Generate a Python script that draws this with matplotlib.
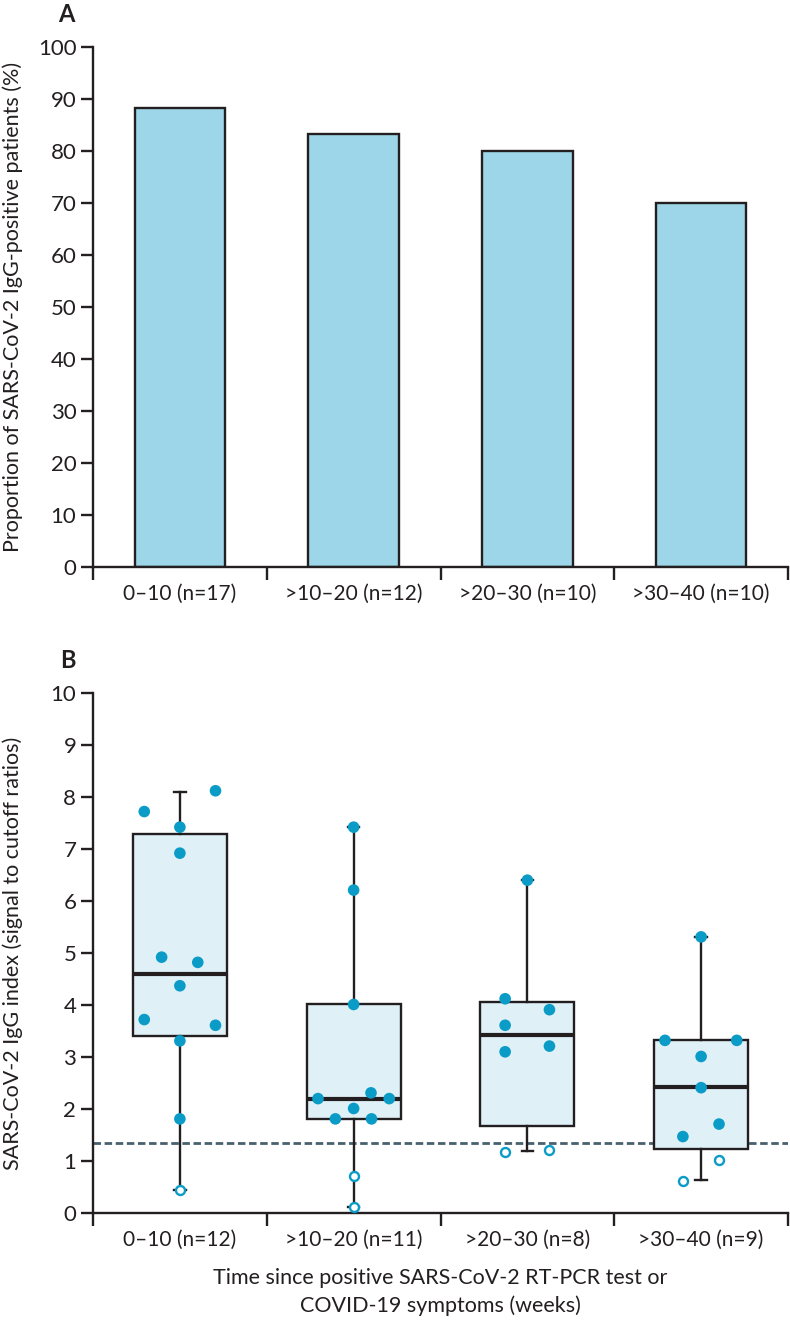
import matplotlib
matplotlib.use("Agg")
import matplotlib.pyplot as plt
import numpy as np

plt.rcParams['font.family'] = ['Lato', 'DejaVu Sans']

# ---------------- data ----------------
groups_a = ["0–10 (n=17)", ">10–20 (n=12)", ">20–30 (n=10)", ">30–40 (n=10)"]
igg_positive_pct = [88.2, 83.3, 80.0, 70.0]

groups_b = ["0–10 (n=12)", ">10–20 (n=11)", ">20–30 (n=8)", ">30–40 (n=9)"]
# box statistics (median, q1, q3, whisker low, whisker high)
box_med = [4.6, 2.2, 3.42, 2.42]
box_q1 = [3.4, 1.81, 1.68, 1.23]
box_q3 = [7.29, 4.02, 4.06, 3.32]
box_lo = [0.44, 0.11, 1.2, 0.63]
box_hi = [8.1, 7.42, 6.4, 5.31]

# individual patients: filled = above cutoff, open = below cutoff
g1_filled = [7.72, 8.12, 7.42, 6.92, 4.92, 4.82, 4.37, 3.72, 3.61, 3.31, 1.81]
g1_open = [0.44]
g2_filled = [7.42, 6.21, 4.01, 2.31, 2.2, 2.2, 2.01, 1.81, 1.81]
g2_open = [0.72, 0.11]
g3_filled = [6.4, 4.12, 3.91, 3.61, 3.21, 3.1]
g3_open = [1.18, 1.21]
g4_filled = [5.31, 3.32, 3.32, 3.01, 2.41, 1.71, 1.47]
g4_open = [1.01, 0.62]
cutoff = 1.35

# horizontal jitter (layout only)
g1_filled_dx = [-0.205, 0.205, 0.0, 0.0, -0.105, 0.103, 0.0, -0.205, 0.205, 0.0, 0.0]
g1_open_dx = [0.0]
g2_filled_dx = [0.0, 0.0, 0.0, 0.1, -0.205, 0.205, 0.0, -0.105, 0.103]
g2_open_dx = [0.0, 0.0]
g3_filled_dx = [0.0, -0.128, 0.127, -0.128, 0.127, -0.128]
g3_open_dx = [-0.128, 0.127]
g4_filled_dx = [0.0, -0.208, 0.205, 0.0, 0.0, 0.103, -0.105]
g4_open_dx = [0.103, -0.105]

filled_sets = [(g1_filled, g1_filled_dx), (g2_filled, g2_filled_dx),
               (g3_filled, g3_filled_dx), (g4_filled, g4_filled_dx)]
open_sets = [(g1_open, g1_open_dx), (g2_open, g2_open_dx),
             (g3_open, g3_open_dx), (g4_open, g4_open_dx)]

# ---------------- style ----------------
DARK = "#231f20"
BAR = "#9dd6e8"
BOXFILL = "#dff0f7"
DOT = "#0a9cc6"
DASH = "#48616f"
FS_TICK = 15
FS_YT = 16
FS_LAB = 15.5
LW = 1.7

fig = plt.figure(figsize=(7.9, 13.2), dpi=100)
W, H = 790, 1320

def add_axes(left, top, right, bottom):
    return fig.add_axes([left / W, 1 - bottom / H, (right - left) / W, (bottom - top) / H])

def style_axes(ax, labels):
    for s in ["top", "right"]:
        ax.spines[s].set_visible(False)
    for s in ["left", "bottom"]:
        ax.spines[s].set_linewidth(LW)
        ax.spines[s].set_color(DARK)
    n = len(labels)
    ax.set_xlim(0.5, n + 0.5)
    ax.set_xticks(np.arange(0.5, n + 1.0, 1.0))
    ax.set_xticklabels([""] * (n + 1))
    ax.set_xticks(np.arange(1, n + 1), minor=True)
    ax.set_xticklabels(labels, minor=True, fontsize=FS_TICK, color=DARK)
    ax.tick_params(axis="x", which="major", length=9.5, width=LW, color=DARK, direction="out")
    ax.tick_params(axis="x", which="minor", length=0, pad=12)
    ax.tick_params(axis="y", length=9, width=LW, color=DARK, labelsize=FS_YT,
                   labelcolor=DARK, pad=3)

# ---------------- panel A ----------------
axA = add_axes(93, 47, 788, 567)
x = np.arange(1, len(groups_a) + 1)
axA.bar(x, igg_positive_pct, width=0.52, color=BAR, edgecolor=DARK, linewidth=LW, zorder=2)
axA.set_ylim(0, 100)
axA.set_yticks(np.arange(0, 101, 10))
style_axes(axA, groups_a)
fig.text(13 / W, 1 - 307 / H, "Proportion of SARS-CoV-2 IgG-positive patients (%)",
         rotation=90, ha="center", va="center", fontsize=FS_LAB, color=DARK)
fig.text(58 / W, 1 - 14 / H, "A", fontsize=17, fontweight="bold", color=DARK,
         ha="left", va="center")

# ---------------- panel B ----------------
axB = add_axes(93, 693, 788, 1213)
stats = []
for i in range(len(groups_b)):
    stats.append(dict(med=box_med[i], q1=box_q1[i], q3=box_q3[i],
                      whislo=box_lo[i], whishi=box_hi[i], fliers=[]))
axB.bxp(stats, positions=np.arange(1, len(groups_b) + 1), widths=0.54,
        patch_artist=True, showfliers=False,
        boxprops=dict(facecolor=BOXFILL, edgecolor=DARK, linewidth=LW),
        medianprops=dict(color=DARK, linewidth=3.0, solid_capstyle="butt"),
        whiskerprops=dict(color=DARK, linewidth=LW),
        capprops=dict(color=DARK, linewidth=LW), capwidths=0.066,
        zorder=2)
axB.axhline(cutoff, color=DASH, linestyle=(0, (2.7, 1.3)), linewidth=2.0, zorder=1)
for i, (vals, dx) in enumerate(filled_sets):
    xs = (i + 1) + np.array(dx)
    axB.scatter(xs, vals, s=70, color=DOT, edgecolor="none", zorder=4, clip_on=False)
for i, (vals, dx) in enumerate(open_sets):
    xs = (i + 1) + np.array(dx)
    axB.scatter(xs, vals, s=42, facecolor="white", edgecolor=DOT, linewidth=1.7,
                zorder=4, clip_on=False)
axB.set_ylim(0, 10)
axB.set_yticks(np.arange(0, 11, 1))
style_axes(axB, groups_b)
fig.text(13 / W, 1 - 953 / H, "SARS-CoV-2 IgG index (signal to cutoff ratios)",
         rotation=90, ha="center", va="center", fontsize=FS_LAB, color=DARK)
fig.text(440 / W, 1 - 1292 / H,
         "Time since positive SARS-CoV-2 RT-PCR test or\nCOVID-19 symptoms (weeks)",
         ha="center", va="center", fontsize=FS_LAB, color=DARK, linespacing=1.4)
fig.text(60 / W, 1 - 660 / H, "B", fontsize=17, fontweight="bold", color=DARK,
         ha="left", va="center")

fig.savefig("out.png", dpi=100, facecolor="white")
